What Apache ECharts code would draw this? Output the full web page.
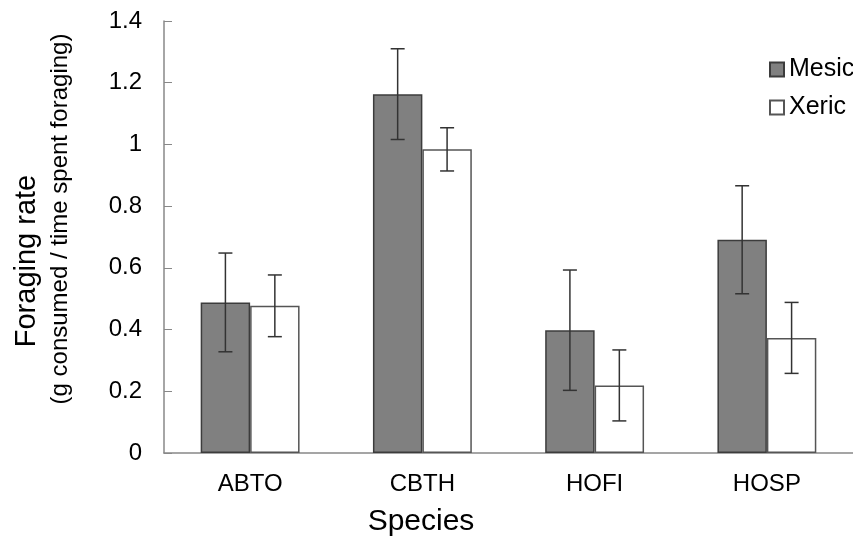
<!DOCTYPE html>
<html>
<head>
<meta charset="utf-8">
<script src="https://cdn.jsdelivr.net/npm/echarts@6/dist/echarts.min.js"></script>
<style>html,body{margin:0;padding:0;background:#fff;}#chart{width:853px;height:542px;}</style>
</head>
<body>
<div id="chart"></div>
<script>
var categories = ['ABTO', 'CBTH', 'HOFI', 'HOSP'];
var mesicValues = [0.488, 1.163, 0.398, 0.691];
var xericValues = [0.477, 0.984, 0.219, 0.373];
var mesicErrors = [0.160, 0.147, 0.195, 0.175];
var xericErrors = [0.100, 0.070, 0.115, 0.115];
var yTicks = [0, 0.2, 0.4, 0.6, 0.8, 1, 1.2, 1.4];

var BAR_PCT = 0.287;
var font = '"Liberation Sans", Arial, Helvetica, sans-serif';

function errData(vals, errs) {
  return vals.map(function (v, i) { return [i, v - errs[i], v + errs[i]]; });
}

function errRender(side) {
  return function (params, api) {
    var idx = api.value(0);
    var lo = api.coord([idx, api.value(1)]);
    var hi = api.coord([idx, api.value(2)]);
    var bw = api.size([1, 0])[0] * BAR_PCT;
    var x = lo[0] + side * bw / 2;
    var cap = 7;
    var st = { stroke: '#333', lineWidth: 1.5 };
    return {
      type: 'group',
      children: [
        { type: 'line', shape: { x1: x, y1: lo[1], x2: x, y2: hi[1] }, style: st },
        { type: 'line', shape: { x1: x - cap, y1: lo[1], x2: x + cap, y2: lo[1] }, style: st },
        { type: 'line', shape: { x1: x - cap, y1: hi[1], x2: x + cap, y2: hi[1] }, style: st }
      ]
    };
  };
}

var chart = echarts.init(document.getElementById('chart'), null, { renderer: 'canvas' });
chart.setOption({
  animation: false,
  backgroundColor: '#fff',
  grid: { left: 164, top: 21, bottom: 89, right: -9, containLabel: false },
  legend: {
    orient: 'vertical',
    left: 769,
    top: 57,
    padding: 0,
    itemWidth: 14,
    itemHeight: 14,
    itemGap: 13,
    icon: 'rect',
    textStyle: { fontSize: 25, color: '#000', fontFamily: font },
    data: ['Mesic', 'Xeric']
  },
  xAxis: {
    type: 'category',
    data: categories,
    axisLine: { lineStyle: { color: '#888', width: 1.5 } },
    axisTick: { inside: true, length: 8, lineStyle: { color: '#888' } },
    axisLabel: { fontSize: 24, color: '#000', margin: 19, fontFamily: font }
  },
  yAxis: {
    type: 'value',
    min: 0,
    max: 1.4,
    interval: 0.2,
    axisLine: { show: true, lineStyle: { color: '#888', width: 1.5 } },
    axisTick: { show: true, inside: true, length: 8, lineStyle: { color: '#888' } },
    splitLine: { show: false },
    axisLabel: { fontSize: 24, color: '#000', margin: 22, fontFamily: font,
      formatter: function (v) { return String(Math.round(v * 10) / 10); } }
  },
  graphic: [
    { type: 'text', x: 27, y: 261, rotation: Math.PI / 2,
      style: { text: 'Foraging rate', fontSize: 29, fontFamily: font, fill: '#000', align: 'center', verticalAlign: 'middle' } },
    { type: 'text', x: 60, y: 219, rotation: Math.PI / 2,
      style: { text: '(g consumed / time spent foraging)', fontSize: 24, fontFamily: font, fill: '#000', align: 'center', verticalAlign: 'middle' } },
    { type: 'text', x: 421, y: 522,
      style: { text: 'Species', fontSize: 30, fontFamily: font, fill: '#000', align: 'center', verticalAlign: 'middle' } }
  ],
  series: [
    { name: 'Mesic', type: 'bar', data: mesicValues, barWidth: (BAR_PCT * 100) + '%', barGap: '0%',
      itemStyle: { color: '#808080', borderColor: '#3c3c3c', borderWidth: 1.5 } },
    { name: 'Xeric', type: 'bar', data: xericValues, barWidth: (BAR_PCT * 100) + '%', barGap: '0%',
      itemStyle: { color: '#ffffff', borderColor: '#555555', borderWidth: 1.5 } },
    { name: 'mesicErr', type: 'custom', data: errData(mesicValues, mesicErrors), renderItem: errRender(-1), z: 5,
      encode: { x: 0, y: [1, 2] } },
    { name: 'xericErr', type: 'custom', data: errData(xericValues, xericErrors), renderItem: errRender(1), z: 5,
      encode: { x: 0, y: [1, 2] } }
  ]
});
</script>
</body>
</html>
